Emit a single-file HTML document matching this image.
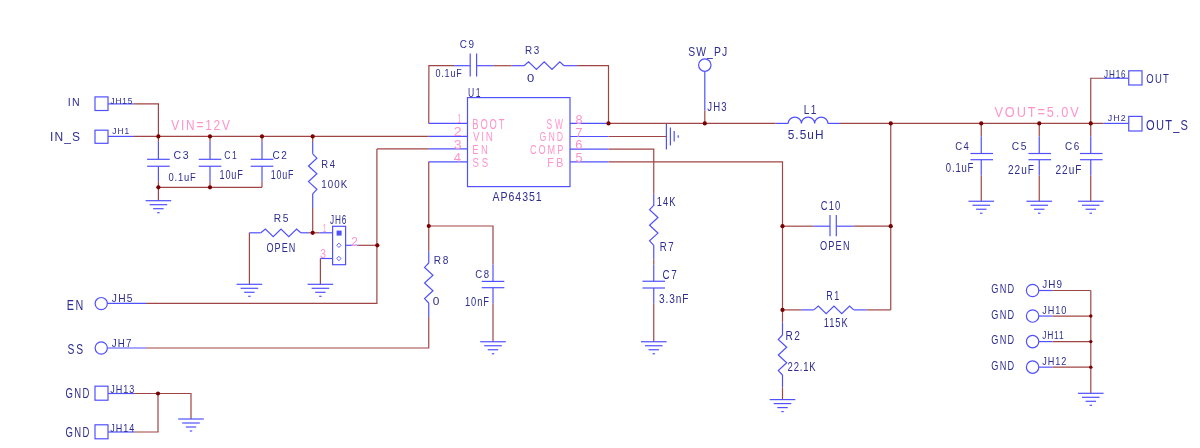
<!DOCTYPE html>
<html><head><meta charset="utf-8"><style>html,body{margin:0;padding:0;background:#fff;overflow:hidden}svg{display:block;font-family:"Liberation Sans",sans-serif}text{stroke:none}</style></head>
<body><svg width="1200" height="448" viewBox="0 0 1200 448" fill="none" stroke-width="1.2">
<rect x="95.00" y="96.90" width="13.00" height="13.60" stroke="#5050ff"/>
<path d="M108.00,103.90 L133.75,103.90" stroke="#5050ff"/>
<path d="M133.75,103.90 L158.40,103.90 L158.40,136.40" stroke="#a04545"/>
<rect x="95.00" y="130.20" width="13.00" height="13.10" stroke="#5050ff"/>
<path d="M108.00,136.40 L134.00,136.40" stroke="#5050ff"/>
<path d="M134.00,136.40 L428.75,136.40" stroke="#a04545"/>
<path d="M428.75,136.40 L467.50,136.40" stroke="#5050ff"/>
<path d="M158.40,136.40 L158.40,141.80" stroke="#a04545"/>
<path d="M158.40,141.80 L158.40,159.30" stroke="#5050ff"/>
<path d="M147.10,159.30 L169.70,159.30" stroke="#5050ff"/>
<path d="M147.10,166.25 L169.70,166.25" stroke="#5050ff"/>
<path d="M158.40,166.25 L158.40,181.40" stroke="#5050ff"/>
<path d="M158.40,181.40 L158.40,187.30" stroke="#a04545"/>
<path d="M210.00,136.40 L210.00,141.80" stroke="#a04545"/>
<path d="M210.00,141.80 L210.00,159.30" stroke="#5050ff"/>
<path d="M198.70,159.30 L221.30,159.30" stroke="#5050ff"/>
<path d="M198.70,166.25 L221.30,166.25" stroke="#5050ff"/>
<path d="M210.00,166.25 L210.00,181.40" stroke="#5050ff"/>
<path d="M210.00,181.40 L210.00,187.30" stroke="#a04545"/>
<path d="M262.00,136.40 L262.00,141.80" stroke="#a04545"/>
<path d="M262.00,141.80 L262.00,159.30" stroke="#5050ff"/>
<path d="M250.70,159.30 L273.30,159.30" stroke="#5050ff"/>
<path d="M250.70,166.25 L273.30,166.25" stroke="#5050ff"/>
<path d="M262.00,166.25 L262.00,181.40" stroke="#5050ff"/>
<path d="M262.00,181.40 L262.00,187.30" stroke="#a04545"/>
<path d="M158.40,187.30 L262.00,187.30" stroke="#a04545"/>
<path d="M158.40,187.30 L158.40,200.70" stroke="#a04545"/>
<path d="M145.60,200.70 L171.20,200.70" stroke="#5050ff"/>
<path d="M149.60,204.70 L167.20,204.70" stroke="#5050ff"/>
<path d="M153.20,208.70 L163.60,208.70" stroke="#5050ff"/>
<path d="M157.20,212.70 L159.60,212.70" stroke="#5050ff"/>
<path d="M312.70,136.40 L312.70,142.00" stroke="#a04545"/>
<path d="M312.70,142.00 L312.70,153.80" stroke="#5050ff"/>
<path d="M312.70,153.80 L316.90,158.20 L308.50,166.00 L316.90,173.80 L308.50,181.60 L316.90,189.40 L312.70,193.80" stroke="#5050ff"/>
<path d="M312.70,193.80 L312.70,207.90" stroke="#5050ff"/>
<path d="M312.70,207.90 L312.70,232.80" stroke="#a04545"/>
<path d="M249.40,284.30 L249.40,232.80" stroke="#a04545"/>
<path d="M249.40,232.80 L260.80,232.80" stroke="#5050ff"/>
<path d="M260.80,232.80 L265.40,229.00 L273.20,236.60 L281.00,229.00 L288.80,236.60 L296.60,229.00 L300.80,232.80" stroke="#5050ff"/>
<path d="M300.80,232.80 L309.20,232.80" stroke="#5050ff"/>
<path d="M309.20,232.80 L319.30,232.80" stroke="#a04545"/>
<path d="M319.30,232.80 L332.60,232.80" stroke="#5050ff"/>
<path d="M236.60,284.30 L262.20,284.30" stroke="#5050ff"/>
<path d="M240.60,288.30 L258.20,288.30" stroke="#5050ff"/>
<path d="M244.20,292.30 L254.60,292.30" stroke="#5050ff"/>
<path d="M248.20,296.30 L250.60,296.30" stroke="#5050ff"/>
<rect x="332.60" y="226.30" width="13.00" height="38.40" stroke="#5050ff"/>
<rect x="336.6" y="230.6" width="5" height="5" fill="#5050ff" stroke="none"/>
<path d="M338.9,243.10000000000002 L341.1,245.3 L338.9,247.5 L336.7,245.3 Z" stroke="#5050ff" stroke-width="0.9"/>
<path d="M338.9,256.3 L341.1,258.5 L338.9,260.7 L336.7,258.5 Z" stroke="#5050ff" stroke-width="0.9"/>
<path d="M345.60,245.30 L358.30,245.30" stroke="#5050ff"/>
<path d="M358.30,245.30 L377.30,245.30" stroke="#a04545"/>
<path d="M332.60,258.50 L320.40,258.50" stroke="#5050ff"/>
<path d="M320.40,258.50 L320.40,284.30" stroke="#a04545"/>
<path d="M307.60,284.30 L333.20,284.30" stroke="#5050ff"/>
<path d="M311.60,288.30 L329.20,288.30" stroke="#5050ff"/>
<path d="M315.20,292.30 L325.60,292.30" stroke="#5050ff"/>
<path d="M319.20,296.30 L321.60,296.30" stroke="#5050ff"/>
<path d="M376.90,148.90 L428.75,148.90" stroke="#a04545"/>
<path d="M428.75,148.90 L467.50,148.90" stroke="#5050ff"/>
<path d="M376.90,148.90 L376.90,303.40 L146.00,303.40" stroke="#a04545"/>
<path d="M146.00,303.40 L107.50,303.40" stroke="#5050ff"/>
<circle cx="101.25" cy="303.60" r="6.1" stroke="#5050ff"/>
<path d="M428.75,161.80 L467.50,161.80" stroke="#5050ff"/>
<path d="M428.75,161.80 L428.75,251.60" stroke="#a04545"/>
<path d="M428.75,251.60 L428.75,263.00" stroke="#5050ff"/>
<path d="M428.75,263.00 L424.55,267.40 L432.95,275.20 L424.55,283.00 L432.95,290.80 L424.55,298.60 L428.75,303.00" stroke="#5050ff"/>
<path d="M428.75,303.00 L428.75,317.10" stroke="#5050ff"/>
<path d="M428.75,317.10 L428.75,348.00 L146.00,348.00" stroke="#a04545"/>
<path d="M146.00,348.00 L107.50,348.00" stroke="#5050ff"/>
<circle cx="101.25" cy="348.00" r="6.1" stroke="#5050ff"/>
<path d="M428.75,226.00 L493.00,226.00 L493.00,264.60" stroke="#a04545"/>
<path d="M493.00,264.60 L493.00,281.40" stroke="#5050ff"/>
<path d="M481.70,281.40 L504.30,281.40" stroke="#5050ff"/>
<path d="M481.70,287.70 L504.30,287.70" stroke="#5050ff"/>
<path d="M493.00,287.70 L493.00,303.40" stroke="#5050ff"/>
<path d="M493.00,303.40 L493.00,341.75" stroke="#a04545"/>
<path d="M480.20,341.75 L505.80,341.75" stroke="#5050ff"/>
<path d="M484.20,345.75 L501.80,345.75" stroke="#5050ff"/>
<path d="M487.80,349.75 L498.20,349.75" stroke="#5050ff"/>
<path d="M491.80,353.75 L494.20,353.75" stroke="#5050ff"/>
<rect x="95.00" y="386.20" width="13.00" height="14.00" stroke="#5050ff"/>
<path d="M108.00,393.50 L134.00,393.50" stroke="#5050ff"/>
<path d="M134.00,393.50 L191.00,393.50 L191.00,419.00" stroke="#a04545"/>
<path d="M178.20,419.00 L203.80,419.00" stroke="#5050ff"/>
<path d="M182.20,423.00 L199.80,423.00" stroke="#5050ff"/>
<path d="M185.80,427.00 L196.20,427.00" stroke="#5050ff"/>
<path d="M189.80,431.00 L192.20,431.00" stroke="#5050ff"/>
<path d="M158.00,393.50 L158.00,432.00 L134.00,432.00" stroke="#a04545"/>
<path d="M134.00,432.00 L108.00,432.00" stroke="#5050ff"/>
<rect x="95.00" y="424.80" width="13.00" height="14.00" stroke="#5050ff"/>
<rect x="467.50" y="97.60" width="102.50" height="89.00" stroke="#5050ff"/>
<path d="M428.75,123.40 L467.50,123.40" stroke="#5050ff"/>
<path d="M428.75,123.40 L428.90,65.70 L454.00,65.70" stroke="#a04545"/>
<path d="M454.00,65.70 L470.20,65.70" stroke="#5050ff"/>
<path d="M470.20,53.40 L470.20,76.50" stroke="#5050ff"/>
<path d="M476.60,53.40 L476.60,76.50" stroke="#5050ff"/>
<path d="M476.60,65.70 L493.60,65.70" stroke="#5050ff"/>
<path d="M493.60,65.70 L511.70,65.70" stroke="#a04545"/>
<path d="M511.70,65.70 L524.00,65.70" stroke="#5050ff"/>
<path d="M524.00,65.70 L528.60,61.90 L536.40,69.50 L544.20,61.90 L552.00,69.50 L559.80,61.90 L564.00,65.70" stroke="#5050ff"/>
<path d="M564.00,65.70 L577.20,65.70" stroke="#5050ff"/>
<path d="M577.20,65.70 L608.50,65.70 L608.50,123.40" stroke="#a04545"/>
<path d="M570.00,123.40 L608.50,123.40" stroke="#5050ff"/>
<path d="M570.00,136.50 L608.50,136.50" stroke="#5050ff"/>
<path d="M570.00,149.20 L608.50,149.20" stroke="#5050ff"/>
<path d="M570.00,161.80 L608.50,161.80" stroke="#5050ff"/>
<path d="M608.50,123.40 L775.70,123.40" stroke="#a04545"/>
<path d="M608.50,136.50 L666.40,136.50" stroke="#a04545"/>
<path d="M666.40,123.80 L666.40,149.50" stroke="#5050ff"/>
<path d="M670.40,127.40 L670.40,145.60" stroke="#5050ff"/>
<path d="M674.20,131.00 L674.20,141.60" stroke="#5050ff"/>
<path d="M678.20,135.20 L678.20,137.80" stroke="#5050ff"/>
<path d="M608.50,149.20 L653.75,149.20 L653.75,193.80" stroke="#a04545"/>
<path d="M653.75,193.80 L653.75,206.00" stroke="#5050ff"/>
<path d="M653.75,205.30 L649.55,209.70 L657.95,217.50 L649.55,225.30 L657.95,233.10 L649.55,240.90 L653.75,245.30" stroke="#5050ff"/>
<path d="M653.75,245.30 L653.75,259.50" stroke="#5050ff"/>
<path d="M653.75,259.50 L653.75,264.50" stroke="#a04545"/>
<path d="M653.75,264.50 L653.75,281.25" stroke="#5050ff"/>
<path d="M642.45,281.25 L665.05,281.25" stroke="#5050ff"/>
<path d="M642.45,288.00 L665.05,288.00" stroke="#5050ff"/>
<path d="M653.75,288.00 L653.75,303.75" stroke="#5050ff"/>
<path d="M653.75,303.75 L653.75,341.75" stroke="#a04545"/>
<path d="M640.95,341.75 L666.55,341.75" stroke="#5050ff"/>
<path d="M644.95,345.75 L662.55,345.75" stroke="#5050ff"/>
<path d="M648.55,349.75 L658.95,349.75" stroke="#5050ff"/>
<path d="M652.55,353.75 L654.95,353.75" stroke="#5050ff"/>
<path d="M608.50,161.80 L782.50,161.80 L782.50,322.50" stroke="#a04545"/>
<path d="M782.50,226.20 L813.75,226.20" stroke="#a04545"/>
<path d="M813.75,226.20 L830.00,226.20" stroke="#5050ff"/>
<path d="M830.00,215.00 L830.00,236.30" stroke="#5050ff"/>
<path d="M836.30,215.00 L836.30,236.30" stroke="#5050ff"/>
<path d="M836.30,226.20 L853.75,226.20" stroke="#5050ff"/>
<path d="M853.75,226.20 L890.75,226.20" stroke="#a04545"/>
<path d="M782.50,309.90 L801.25,309.90" stroke="#a04545"/>
<path d="M801.25,309.90 L813.75,309.90" stroke="#5050ff"/>
<path d="M813.75,309.90 L818.35,306.10 L826.15,313.70 L833.95,306.10 L841.75,313.70 L849.55,306.10 L853.75,309.90" stroke="#5050ff"/>
<path d="M853.75,309.90 L866.25,309.90" stroke="#5050ff"/>
<path d="M866.25,309.90 L890.75,309.90" stroke="#a04545"/>
<path d="M890.75,123.40 L890.75,309.90" stroke="#a04545"/>
<path d="M782.50,322.50 L782.50,335.00" stroke="#5050ff"/>
<path d="M782.50,335.00 L778.30,339.40 L786.70,347.20 L778.30,355.00 L786.70,362.80 L778.30,370.60 L782.50,375.00" stroke="#5050ff"/>
<path d="M782.50,375.00 L782.50,387.50" stroke="#5050ff"/>
<path d="M782.50,387.50 L782.50,399.60" stroke="#a04545"/>
<path d="M769.70,399.60 L795.30,399.60" stroke="#5050ff"/>
<path d="M773.70,403.60 L791.30,403.60" stroke="#5050ff"/>
<path d="M777.30,407.60 L787.70,407.60" stroke="#5050ff"/>
<path d="M781.30,411.60 L783.70,411.60" stroke="#5050ff"/>
<circle cx="704.80" cy="65.10" r="6.2" stroke="#5050ff"/>
<path d="M704.80,72.00 L704.80,110.50" stroke="#5050ff"/>
<path d="M704.80,110.50 L704.80,123.40" stroke="#a04545"/>
<path d="M775.70,123.40 L788.20,123.40" stroke="#5050ff"/>
<path d="M788.2,123.4 A6.615,6.3 0 0 1 801.43,123.4 A6.615,6.3 0 0 1 814.66,123.4 A6.615,6.3 0 0 1 827.89,123.4" stroke="#5050ff"/>
<path d="M827.90,123.40 L840.00,123.40" stroke="#5050ff"/>
<path d="M840.00,123.40 L1103.30,123.40" stroke="#a04545"/>
<path d="M981.25,123.40 L981.25,136.25" stroke="#a04545"/>
<path d="M981.25,136.25 L981.25,153.50" stroke="#5050ff"/>
<path d="M970.45,153.50 L993.05,153.50" stroke="#5050ff"/>
<path d="M970.45,159.70 L993.05,159.70" stroke="#5050ff"/>
<path d="M981.25,159.70 L981.25,175.50" stroke="#5050ff"/>
<path d="M981.25,175.50 L981.25,201.25" stroke="#a04545"/>
<path d="M968.45,201.25 L994.05,201.25" stroke="#5050ff"/>
<path d="M972.45,205.25 L990.05,205.25" stroke="#5050ff"/>
<path d="M976.05,209.25 L986.45,209.25" stroke="#5050ff"/>
<path d="M980.05,213.25 L982.45,213.25" stroke="#5050ff"/>
<path d="M1039.25,123.40 L1039.25,136.25" stroke="#a04545"/>
<path d="M1039.25,136.25 L1039.25,153.50" stroke="#5050ff"/>
<path d="M1028.45,153.50 L1051.05,153.50" stroke="#5050ff"/>
<path d="M1028.45,159.70 L1051.05,159.70" stroke="#5050ff"/>
<path d="M1039.25,159.70 L1039.25,175.50" stroke="#5050ff"/>
<path d="M1039.25,175.50 L1039.25,201.25" stroke="#a04545"/>
<path d="M1026.45,201.25 L1052.05,201.25" stroke="#5050ff"/>
<path d="M1030.45,205.25 L1048.05,205.25" stroke="#5050ff"/>
<path d="M1034.05,209.25 L1044.45,209.25" stroke="#5050ff"/>
<path d="M1038.05,213.25 L1040.45,213.25" stroke="#5050ff"/>
<path d="M1090.75,123.40 L1090.75,136.25" stroke="#a04545"/>
<path d="M1090.75,136.25 L1090.75,153.50" stroke="#5050ff"/>
<path d="M1079.95,153.50 L1102.55,153.50" stroke="#5050ff"/>
<path d="M1079.95,159.70 L1102.55,159.70" stroke="#5050ff"/>
<path d="M1090.75,159.70 L1090.75,175.50" stroke="#5050ff"/>
<path d="M1090.75,175.50 L1090.75,201.25" stroke="#a04545"/>
<path d="M1077.95,201.25 L1103.55,201.25" stroke="#5050ff"/>
<path d="M1081.95,205.25 L1099.55,205.25" stroke="#5050ff"/>
<path d="M1085.55,209.25 L1095.95,209.25" stroke="#5050ff"/>
<path d="M1089.55,213.25 L1091.95,213.25" stroke="#5050ff"/>
<path d="M1090.75,123.40 L1090.75,78.25 L1103.75,78.25" stroke="#a04545"/>
<path d="M1103.75,78.25 L1128.75,78.25" stroke="#5050ff"/>
<rect x="1128.75" y="70.80" width="13.25" height="14.20" stroke="#5050ff"/>
<path d="M1103.30,123.40 L1128.75,123.40" stroke="#5050ff"/>
<rect x="1128.75" y="116.40" width="13.25" height="14.60" stroke="#5050ff"/>
<circle cx="1032.60" cy="290.50" r="6.2" stroke="#5050ff"/>
<path d="M1038.80,290.50 L1052.60,290.50" stroke="#5050ff"/>
<path d="M1052.60,290.50 L1090.80,290.50" stroke="#a04545"/>
<circle cx="1032.60" cy="316.05" r="6.2" stroke="#5050ff"/>
<path d="M1038.80,316.05 L1052.60,316.05" stroke="#5050ff"/>
<path d="M1052.60,316.05 L1090.80,316.05" stroke="#a04545"/>
<circle cx="1032.60" cy="341.60" r="6.2" stroke="#5050ff"/>
<path d="M1038.80,341.60 L1052.60,341.60" stroke="#5050ff"/>
<path d="M1052.60,341.60 L1090.80,341.60" stroke="#a04545"/>
<circle cx="1032.60" cy="367.15" r="6.2" stroke="#5050ff"/>
<path d="M1038.80,367.15 L1052.60,367.15" stroke="#5050ff"/>
<path d="M1052.60,367.15 L1090.80,367.15" stroke="#a04545"/>
<path d="M1090.80,290.50 L1090.80,393.30" stroke="#a04545"/>
<path d="M1078.00,393.30 L1103.60,393.30" stroke="#5050ff"/>
<path d="M1082.00,397.30 L1099.60,397.30" stroke="#5050ff"/>
<path d="M1085.60,401.30 L1096.00,401.30" stroke="#5050ff"/>
<path d="M1089.60,405.30 L1092.00,405.30" stroke="#5050ff"/>
<circle cx="158.40" cy="136.40" r="2.1" fill="#780000" stroke="none"/>
<circle cx="210.00" cy="136.40" r="2.1" fill="#780000" stroke="none"/>
<circle cx="262.00" cy="136.40" r="2.1" fill="#780000" stroke="none"/>
<circle cx="158.40" cy="187.30" r="2.1" fill="#780000" stroke="none"/>
<circle cx="210.00" cy="187.30" r="2.1" fill="#780000" stroke="none"/>
<circle cx="312.70" cy="136.40" r="2.1" fill="#780000" stroke="none"/>
<circle cx="312.70" cy="232.80" r="2.1" fill="#780000" stroke="none"/>
<circle cx="377.30" cy="245.30" r="2.1" fill="#780000" stroke="none"/>
<circle cx="428.75" cy="226.00" r="2.1" fill="#780000" stroke="none"/>
<circle cx="158.00" cy="393.50" r="2.1" fill="#780000" stroke="none"/>
<circle cx="608.50" cy="123.40" r="2.1" fill="#780000" stroke="none"/>
<circle cx="704.80" cy="123.40" r="2.1" fill="#780000" stroke="none"/>
<circle cx="782.50" cy="226.20" r="2.1" fill="#780000" stroke="none"/>
<circle cx="782.50" cy="309.90" r="2.1" fill="#780000" stroke="none"/>
<circle cx="890.75" cy="226.20" r="2.1" fill="#780000" stroke="none"/>
<circle cx="890.75" cy="123.40" r="2.1" fill="#780000" stroke="none"/>
<circle cx="981.25" cy="123.40" r="2.1" fill="#780000" stroke="none"/>
<circle cx="1039.25" cy="123.40" r="2.1" fill="#780000" stroke="none"/>
<circle cx="1090.75" cy="123.40" r="2.1" fill="#780000" stroke="none"/>
<circle cx="1090.80" cy="316.05" r="1.7" fill="#780000" stroke="none"/>
<circle cx="1090.80" cy="341.60" r="1.7" fill="#780000" stroke="none"/>
<circle cx="1090.80" cy="367.15" r="1.7" fill="#780000" stroke="none"/>
<g opacity="0.995">
<text transform="matrix(0.9440,0,0,1,67.80,106.00)" font-size="11.23" letter-spacing="1.27" fill="#2c2c90">IN</text>
<text transform="matrix(0.9054,0,0,1,49.92,141.27)" font-size="13.24" letter-spacing="1.25" fill="#2c2c90">IN_S</text>
<text transform="matrix(0.8853,0,0,1,110.48,104.01)" font-size="9.29" letter-spacing="0.96" fill="#2c2c90">JH15</text>
<text transform="matrix(0.9414,0,0,1,112.37,133.51)" font-size="8.86" letter-spacing="1.04" fill="#2c2c90">JH1</text>
<text transform="matrix(0.9359,0,0,1,173.47,159.49)" font-size="11.27" letter-spacing="1.82" fill="#2c2c90">C3</text>
<text transform="matrix(0.8060,0,0,1,168.52,181.48)" font-size="11.69" letter-spacing="0.99" fill="#2c2c90">0.1uF</text>
<text transform="matrix(0.7678,0,0,1,224.37,159.49)" font-size="11.27" letter-spacing="1.81" fill="#2c2c90">C1</text>
<text transform="matrix(0.7550,0,0,1,219.41,178.78)" font-size="12.11" letter-spacing="1.19" fill="#2c2c90">10uF</text>
<text transform="matrix(0.8907,0,0,1,272.50,159.49)" font-size="11.27" letter-spacing="1.81" fill="#2c2c90">C2</text>
<text transform="matrix(0.7349,0,0,1,270.63,178.78)" font-size="12.11" letter-spacing="1.19" fill="#2c2c90">10uF</text>
<text transform="matrix(0.8144,0,0,1,321.34,168.00)" font-size="11.59" letter-spacing="1.84" fill="#2c2c90">R4</text>
<text transform="matrix(0.9642,0,0,1,321.37,187.60)" font-size="10.14" letter-spacing="1.04" fill="#2c2c90">100K</text>
<text transform="matrix(0.9162,0,0,1,273.78,222.19)" font-size="11.14" letter-spacing="1.76" fill="#2c2c90">R5</text>
<text transform="matrix(0.7323,0,0,1,266.39,251.68)" font-size="12.39" letter-spacing="1.52" fill="#2c2c90">OPEN</text>
<text transform="matrix(0.6838,0,0,1,329.88,224.38)" font-size="11.97" letter-spacing="1.40" fill="#2c2c90">JH6</text>
<text transform="matrix(0.7435,0,0,1,66.64,309.50)" font-size="14.49" letter-spacing="2.42" fill="#2c2c90">EN</text>
<text transform="matrix(0.9550,0,0,1,111.85,302.39)" font-size="10.71" letter-spacing="1.26" fill="#2c2c90">JH5</text>
<text transform="matrix(0.7306,0,0,1,67.54,354.36)" font-size="14.08" letter-spacing="2.38" fill="#2c2c90">SS</text>
<text transform="matrix(0.8556,0,0,1,111.85,347.39)" font-size="11.43" letter-spacing="1.33" fill="#2c2c90">JH7</text>
<text transform="matrix(0.6763,0,0,1,65.52,398.36)" font-size="14.08" letter-spacing="2.04" fill="#2c2c90">GND</text>
<text transform="matrix(0.8586,0,0,1,110.36,393.39)" font-size="10.56" letter-spacing="1.09" fill="#2c2c90">JH13</text>
<text transform="matrix(0.6763,0,0,1,65.52,436.86)" font-size="14.08" letter-spacing="2.04" fill="#2c2c90">GND</text>
<text transform="matrix(0.8429,0,0,1,110.36,431.89)" font-size="10.71" letter-spacing="1.12" fill="#2c2c90">JH14</text>
<text transform="matrix(0.9029,0,0,1,459.70,47.69)" font-size="10.99" letter-spacing="1.77" fill="#2c2c90">C9</text>
<text transform="matrix(0.8221,0,0,1,435.54,77.29)" font-size="10.99" letter-spacing="0.93" fill="#2c2c90">0.1uF</text>
<text transform="matrix(0.8524,0,0,1,524.96,53.63)" font-size="11.62" letter-spacing="1.83" fill="#2c2c90">R3</text>
<text transform="matrix(1.1556,0,0,1,526.98,81.64)" font-size="11.27" letter-spacing="0.00" fill="#2c2c90">0</text>
<text transform="matrix(0.6857,0,0,1,468.11,97.38)" font-size="12.50" letter-spacing="1.97" fill="#2c2c90">U1</text>
<text transform="matrix(0.8553,0,0,1,492.50,201.13)" font-size="12.32" letter-spacing="1.14" fill="#2c2c90">AP64351</text>
<text transform="matrix(0.9993,0,0,1,433.79,264.40)" font-size="10.14" letter-spacing="1.60" fill="#2c2c90">R8</text>
<text transform="matrix(1.0950,0,0,1,432.72,305.09)" font-size="10.85" letter-spacing="0.00" fill="#2c2c90">0</text>
<text transform="matrix(0.8502,0,0,1,475.22,278.29)" font-size="11.27" letter-spacing="1.82" fill="#2c2c90">C8</text>
<text transform="matrix(0.7775,0,0,1,465.00,305.88)" font-size="11.97" letter-spacing="1.18" fill="#2c2c90">10nF</text>
<text transform="matrix(0.8564,0,0,1,688.13,56.08)" font-size="12.11" letter-spacing="1.33" fill="#2c2c90">SW_PJ</text>
<text transform="matrix(0.7784,0,0,1,707.36,111.13)" font-size="12.32" letter-spacing="1.45" fill="#2c2c90">JH3</text>
<text transform="matrix(0.8293,0,0,1,803.79,113.60)" font-size="12.17" letter-spacing="1.64" fill="#2c2c90">L1</text>
<text transform="matrix(0.9328,0,0,1,787.73,138.97)" font-size="12.71" letter-spacing="1.10" fill="#2c2c90">5.5uH</text>
<text transform="matrix(0.7391,0,0,1,656.80,206.25)" font-size="12.68" letter-spacing="1.46" fill="#2c2c90">14K</text>
<text transform="matrix(0.7576,0,0,1,659.73,251.25)" font-size="12.68" letter-spacing="1.98" fill="#2c2c90">R7</text>
<text transform="matrix(0.8052,0,0,1,662.50,278.63)" font-size="12.32" letter-spacing="1.97" fill="#2c2c90">C7</text>
<text transform="matrix(0.7778,0,0,1,659.09,302.87)" font-size="13.03" letter-spacing="1.10" fill="#2c2c90">3.3nF</text>
<text transform="matrix(0.7876,0,0,1,820.78,210.38)" font-size="11.97" letter-spacing="1.43" fill="#2c2c90">C10</text>
<text transform="matrix(0.7457,0,0,1,820.09,249.88)" font-size="12.32" letter-spacing="1.52" fill="#2c2c90">OPEN</text>
<text transform="matrix(0.7090,0,0,1,826.28,300.00)" font-size="12.68" letter-spacing="1.99" fill="#2c2c90">R1</text>
<text transform="matrix(0.7445,0,0,1,823.80,327.38)" font-size="12.50" letter-spacing="1.24" fill="#2c2c90">115K</text>
<text transform="matrix(0.7920,0,0,1,785.44,340.00)" font-size="12.86" letter-spacing="2.01" fill="#2c2c90">R2</text>
<text transform="matrix(0.7592,0,0,1,787.53,371.25)" font-size="12.50" letter-spacing="1.09" fill="#2c2c90">22.1K</text>
<text transform="matrix(0.7378,0,0,1,1104.08,78.09)" font-size="10.99" letter-spacing="1.14" fill="#2c2c90">JH16</text>
<text transform="matrix(0.7107,0,0,1,1146.17,82.77)" font-size="13.38" letter-spacing="1.87" fill="#2c2c90">OUT</text>
<text transform="matrix(0.9380,0,0,1,1107.87,121.41)" font-size="9.44" letter-spacing="1.10" fill="#2c2c90">JH2</text>
<text transform="matrix(0.7887,0,0,1,1146.10,129.66)" font-size="14.08" letter-spacing="1.56" fill="#2c2c90">OUT_S</text>
<text transform="matrix(0.8327,0,0,1,955.13,149.89)" font-size="11.41" letter-spacing="1.86" fill="#2c2c90">C4</text>
<text transform="matrix(0.8950,0,0,1,1011.74,149.89)" font-size="11.41" letter-spacing="1.84" fill="#2c2c90">C5</text>
<text transform="matrix(0.8690,0,0,1,1064.90,149.89)" font-size="11.41" letter-spacing="1.84" fill="#2c2c90">C6</text>
<text transform="matrix(0.7945,0,0,1,945.87,172.38)" font-size="11.97" letter-spacing="1.01" fill="#2c2c90">0.1uF</text>
<text transform="matrix(0.7669,0,0,1,1008.00,174.37)" font-size="13.10" letter-spacing="1.30" fill="#2c2c90">22uF</text>
<text transform="matrix(0.7669,0,0,1,1055.50,174.37)" font-size="13.10" letter-spacing="1.30" fill="#2c2c90">22uF</text>
<text transform="matrix(0.7469,0,0,1,991.24,293.18)" font-size="12.25" letter-spacing="1.78" fill="#2c2c90">GND</text>
<text transform="matrix(0.7469,0,0,1,991.24,318.73)" font-size="12.25" letter-spacing="1.78" fill="#2c2c90">GND</text>
<text transform="matrix(0.7469,0,0,1,991.24,344.28)" font-size="12.25" letter-spacing="1.78" fill="#2c2c90">GND</text>
<text transform="matrix(0.7469,0,0,1,991.24,369.83)" font-size="12.25" letter-spacing="1.78" fill="#2c2c90">GND</text>
<text transform="matrix(0.9252,0,0,1,1042.15,288.29)" font-size="10.70" letter-spacing="1.25" fill="#2c2c90">JH9</text>
<text transform="matrix(0.8527,0,0,1,1042.16,313.84)" font-size="10.70" letter-spacing="1.11" fill="#2c2c90">JH10</text>
<text transform="matrix(0.7737,0,0,1,1042.17,339.39)" font-size="10.86" letter-spacing="1.09" fill="#2c2c90">JH11</text>
<text transform="matrix(0.8511,0,0,1,1042.16,364.94)" font-size="10.70" letter-spacing="1.10" fill="#2c2c90">JH12</text>
<text transform="matrix(0.7807,0,0,1,171.34,130.10)" font-size="15.29" letter-spacing="2.25" fill="#ff94ca">VIN=12V</text>
<text transform="matrix(0.8726,0,0,1,994.44,117.15)" font-size="14.65" letter-spacing="2.17" fill="#ff94ca">VOUT=5.0V</text>
<text transform="matrix(0.6684,0,0,1,472.25,128.86)" font-size="14.08" letter-spacing="2.82" fill="#ff94ca">BOOT</text>
<text transform="matrix(0.7316,0,0,1,472.95,141.30)" font-size="13.48" letter-spacing="2.34" fill="#ff94ca">VIN</text>
<text transform="matrix(0.6953,0,0,1,472.25,154.30)" font-size="13.48" letter-spacing="3.62" fill="#ff94ca">EN</text>
<text transform="matrix(0.7292,0,0,1,472.57,166.87)" font-size="13.24" letter-spacing="3.60" fill="#ff94ca">SS</text>
<text transform="matrix(0.5971,0,0,1,546.42,128.86)" font-size="14.08" letter-spacing="4.82" fill="#ff94ca">SW</text>
<text transform="matrix(0.6717,0,0,1,539.56,141.17)" font-size="13.10" letter-spacing="3.06" fill="#ff94ca">GND</text>
<text transform="matrix(0.6973,0,0,1,530.04,154.17)" font-size="13.10" letter-spacing="2.78" fill="#ff94ca">COMP</text>
<text transform="matrix(0.7780,0,0,1,547.15,167.00)" font-size="13.62" letter-spacing="3.42" fill="#ff94ca">FB</text>
<text transform="matrix(0.5665,0,0,1,457.48,123.40)" font-size="12.17" letter-spacing="0.00" fill="#ff94ca">1</text>
<text transform="matrix(1.1765,0,0,1,453.79,136.00)" font-size="12.14" letter-spacing="0.00" fill="#ff94ca">2</text>
<text transform="matrix(1.1430,0,0,1,453.95,148.88)" font-size="11.97" letter-spacing="0.00" fill="#ff94ca">3</text>
<text transform="matrix(1.0486,0,0,1,453.74,161.60)" font-size="12.46" letter-spacing="0.00" fill="#ff94ca">4</text>
<text transform="matrix(1.0539,0,0,1,575.43,123.88)" font-size="12.11" letter-spacing="0.00" fill="#ff94ca">8</text>
<text transform="matrix(1.0580,0,0,1,575.34,136.80)" font-size="12.46" letter-spacing="0.00" fill="#ff94ca">7</text>
<text transform="matrix(1.0653,0,0,1,575.35,149.48)" font-size="12.11" letter-spacing="0.00" fill="#ff94ca">6</text>
<text transform="matrix(1.0402,0,0,1,575.49,161.88)" font-size="12.14" letter-spacing="0.00" fill="#ff94ca">5</text>
<text transform="matrix(0.5421,0,0,1,322.83,232.40)" font-size="11.45" letter-spacing="0.00" fill="#ff94ca">1</text>
<text transform="matrix(0.9680,0,0,1,350.98,245.70)" font-size="12.71" letter-spacing="0.00" fill="#ff94ca">2</text>
<text transform="matrix(0.8968,0,0,1,319.97,258.38)" font-size="11.97" letter-spacing="0.00" fill="#ff94ca">3</text>
</g>
</svg></body></html>
